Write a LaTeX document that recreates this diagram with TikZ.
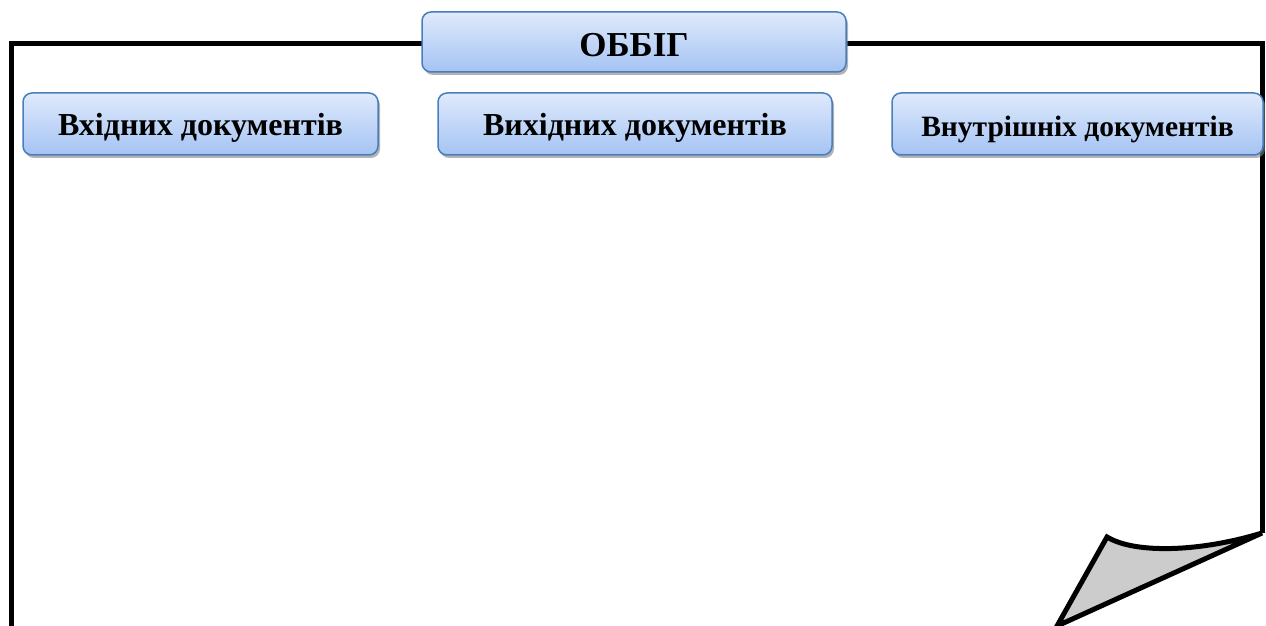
\documentclass[tikz,border=0pt]{standalone}
\usepackage{fontspec}
\setmainfont{Liberation Serif}
\usetikzlibrary{shadows}
\definecolor{boxtop}{HTML}{DFEAFC}
\definecolor{boxbot}{HTML}{A4C3F3}
\definecolor{boxline}{HTML}{4A7EBB}
\definecolor{curlfill}{HTML}{CCCCCC}
\tikzset{
  docbox/.style={draw=boxline, line width=1.5pt, rounded corners=9pt,
    top color=boxtop, bottom color=boxbot,
    drop shadow={shadow xshift=2pt, shadow yshift=-3pt, fill=black!50, opacity=0.6},
    font=\bfseries\fontsize{32}{36}\selectfont, inner sep=0pt,
    text height=26pt, text depth=3pt},
  frameline/.style={line width=5pt, black, line cap=butt, line join=miter},
  frameshadow/.style={line width=5pt, black!30, line cap=butt, line join=miter}
}
\begin{document}
\begin{tikzpicture}[x=1pt,y=1pt]
\useasboundingbox (0,0) rectangle (1266,626);
\clip (0,0) rectangle (1266,626);
% frame coordinates
\coordinate (fbl) at (11.5,-10);
\coordinate (ftl) at (11.5,582.5);
\coordinate (ftr) at (1262,582.5);
\coordinate (fbr) at (1262,93);
\coordinate (ctip) at (1057,0);
\coordinate (ctop) at (1107,89);
% frame shadow
\draw[frameshadow, shift={(1.5,-1.5)}] (fbl) -- (ftl) -- (ftr) -- (fbr);
% frame
\draw[frameline] (fbl) -- (ftl) -- (ftr) -- (fbr);
% page curl
\draw[frameline, fill=curlfill] (fbr) -- (ctip) -- (ctop)
  .. controls (1135,72) and (1200,74) .. (fbr) -- cycle;
% boxes
\node[docbox, minimum width=424pt, minimum height=60pt,
  font=\bfseries\fontsize{35}{40}\selectfont, text height=32pt, text depth=2.6pt] (obig) at (634,584) {ОББІГ};
\node[docbox, minimum width=355pt, minimum height=62pt] (vkh) at (200.5,502) {Вхідних документів};
\node[docbox, minimum width=394pt, minimum height=62pt] (vykh) at (635,502) {Вихідних документів};
\node[docbox, minimum width=371pt, minimum height=62pt,
  font=\bfseries\fontsize{29.5}{34}\selectfont, text height=28pt, text depth=2.6pt] (vnut) at (1077.5,502) {Внутрішніх документів};
\end{tikzpicture}
\end{document}
